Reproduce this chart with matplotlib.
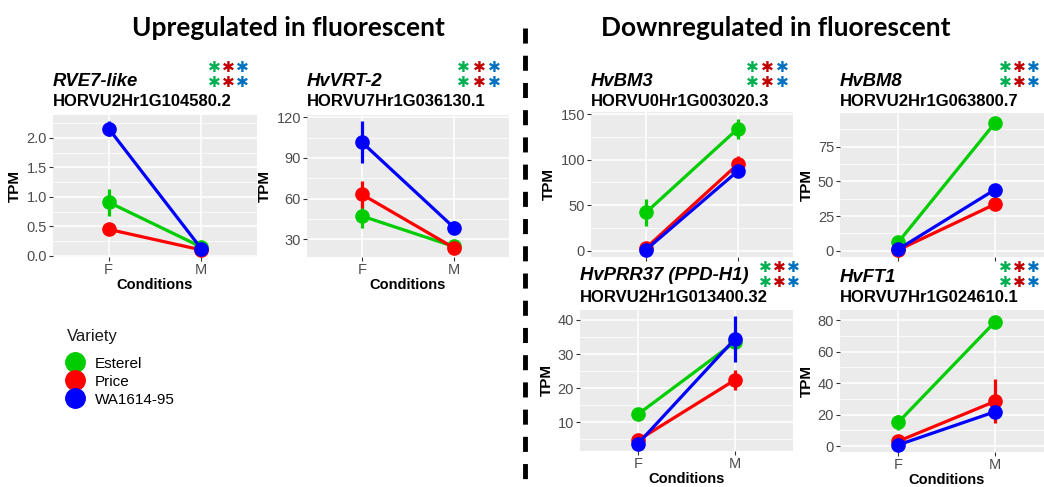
import matplotlib
matplotlib.use("Agg")
import matplotlib.pyplot as plt
from matplotlib.lines import Line2D
from matplotlib.ticker import MultipleLocator, FormatStrFormatter

W, H = 1044, 487
fig = plt.figure(figsize=(W / 100, H / 100), dpi=100)
plt.rcParams["font.family"] = ["Liberation Sans", "DejaVu Sans"]

varieties = ["Esterel", "Price", "WA1614-95"]
conditions = ["F", "M"]
line_colors = ["#00CD00", "#FF0000", "#0000FF"]
star_colors = ["#00B050", "#C00000", "#0070C0"]

# mean TPM per variety (rows) at F and M, with standard errors
rve7_mean = [[0.91, 0.15], [0.45, 0.10], [2.16, 0.12]]
rve7_se = [[0.23, 0.02], [0.08, 0.01], [0.12, 0.03]]

vrt2_mean = [[47.0, 24.5], [63.0, 23.5], [101.5, 38.5]]
vrt2_se = [[9.0, 1.5], [10.0, 2.0], [15.5, 5.0]]

bm3_mean = [[42.0, 134.0], [3.0, 95.0], [1.0, 87.5]]
bm3_se = [[15.0, 11.0], [1.0, 9.0], [0.8, 2.0]]

bm8_mean = [[6.0, 92.0], [0.5, 33.5], [1.0, 44.0]]
bm8_se = [[1.0, 2.5], [0.3, 1.5], [0.5, 2.0]]

prr37_mean = [[12.4, 33.5], [4.8, 22.4], [3.8, 34.4]]
prr37_se = [[1.5, 1.0], [0.5, 3.0], [0.3, 6.6]]

ft1_mean = [[15.0, 79.0], [3.0, 28.4], [0.7, 21.8]]
ft1_se = [[5.0, 3.5], [1.0, 14.0], [0.4, 4.0]]


def px(x, y):
    return x / W, 1 - y / H


def add_panel(box, means, ses, gene, gene_id, major, minor, fmt,
              show_x=True, title_y=(81, 102), stars_x=(0, 0, 0), stars_mid=75):
    x0, y0, x1, y1 = box
    ax = fig.add_axes([x0 / W, 1 - y1 / H, (x1 - x0) / W, (y1 - y0) / H])
    ax.set_facecolor("#EBEBEB")
    for s in ax.spines.values():
        s.set_visible(False)
    pos = [1, 2]
    lo = min(m - e for row_m, row_e in zip(means, ses) for m, e in zip(row_m, row_e))
    hi = max(m + e for row_m, row_e in zip(means, ses) for m, e in zip(row_m, row_e))
    pad = 0.05 * (hi - lo)
    for i, (m, e) in enumerate(zip(means, ses)):
        ax.errorbar(pos, m, yerr=e, color=line_colors[i], lw=2.3, elinewidth=2.3,
                    capsize=0, marker="o", ms=9.5, zorder=3 + i)
    ax.set_xlim(0.4, 2.6)
    ax.set_ylim(lo - pad, hi + pad)
    ax.set_xticks(pos)
    ax.set_xticklabels(conditions if show_x else [])
    ax.yaxis.set_major_locator(MultipleLocator(major))
    ax.yaxis.set_minor_locator(MultipleLocator(minor))
    ax.yaxis.set_major_formatter(FormatStrFormatter(fmt))
    ax.grid(which="major", color="white", lw=1.1)
    ax.grid(which="minor", axis="y", color="white", lw=0.55)
    ax.set_axisbelow(True)
    ax.tick_params(which="major", length=2.8, width=0.8, color="#333333",
                   labelcolor="#4D4D4D", labelsize=10.5, pad=1.5)
    ax.tick_params(which="minor", length=0)
    ax.set_ylabel("TPM", fontsize=11, fontweight="bold", labelpad=3)
    if show_x:
        ax.set_xlabel("Conditions", fontsize=10.5, fontweight="bold", labelpad=1)
    fig.text(*px(x0, title_y[0]), gene, fontsize=13.3, fontweight="bold",
             style="italic", va="center", ha="left")
    fig.text(*px(x0, title_y[1]), gene_id, fontsize=12, fontweight="bold",
             va="center", ha="left")
    # significance marks: one column of two asterisks per variety
    for sx, c in zip(stars_x, star_colors):
        fig.text(*px(sx, stars_mid), "\u2731\n\u2731", color=c, fontsize=11,
                 family="DejaVu Sans", ha="center", va="center",
                 multialignment="center", linespacing=0.97)
    return ax


add_panel((53, 115, 257, 257), rve7_mean, rve7_se, "RVE7-like", "HORVU2Hr1G104580.2",
          0.5, 0.25, "%.1f", stars_x=(214, 228, 242))
add_panel((307, 115, 509, 257), vrt2_mean, vrt2_se, "HvVRT-2", "HORVU7Hr1G036130.1",
          30, 15, "%d", stars_x=(463, 479, 494))
add_panel((591, 112, 793, 257), bm3_mean, bm3_se, "HvBM3", "HORVU0Hr1G003020.3",
          50, 25, "%d", show_x=False, stars_x=(752, 767, 782))
add_panel((840, 113, 1053, 257), bm8_mean, bm8_se, "HvBM8", "HORVU2Hr1G063800.7",
          25, 12.5, "%d", show_x=False, stars_x=(1005, 1019, 1033))
add_panel((580, 310, 793, 451), prr37_mean, prr37_se, "HvPRR37 (PPD-H1)",
          "HORVU2Hr1G013400.32", 10, 5, "%d", title_y=(276, 297),
          stars_x=(765, 779, 793), stars_mid=275)
add_panel((840, 310, 1053, 452), ft1_mean, ft1_se, "HvFT1", "HORVU7Hr1G024610.1",
          20, 10, "%d", title_y=(277, 297),
          stars_x=(1005, 1019, 1033), stars_mid=275)

# group headings and divider
fig.text(*px(288, 28), "Upregulated in fluorescent", family="Lato", fontweight="bold",
         fontsize=19, ha="center", va="center")
fig.text(*px(776, 28), "Downregulated in fluorescent", family="Lato", fontweight="bold",
         fontsize=19, ha="center", va="center")
fig.add_artist(Line2D([525 / W, 525 / W], [1 - 28 / H, 0], transform=fig.transFigure,
                      color="black", lw=3.5, linestyle=(0, (3.1, 2.5))))

# legend
fig.text(*px(67, 336), "Variety", fontsize=12, color="#1A1A1A", ha="left", va="center")
handles = [Line2D([], [], color=c, marker="o", ls="none", ms=14) for c in line_colors]
fig.legend(handles, varieties, loc="upper left", bbox_to_anchor=px(66, 356),
           frameon=False, fontsize=11, labelspacing=0.2, handleheight=1.0,
           handletextpad=0.7, handlelength=1.2, borderaxespad=0, borderpad=0)

fig.savefig("out.png", dpi=100)
